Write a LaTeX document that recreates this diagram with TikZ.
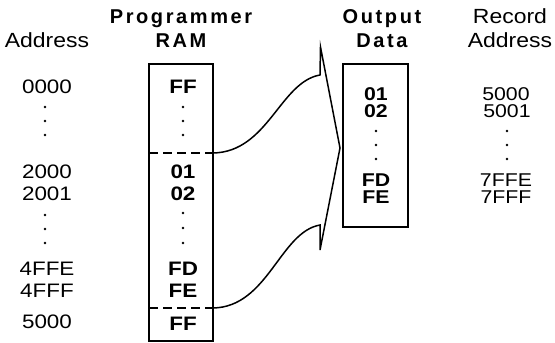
\documentclass[tikz,border=0pt]{standalone}
\usepackage{fontspec}
\newfontfamily\hdreg[FakeStretch=1.12]{Liberation Sans}
\newfontfamily\hdbold[LetterSpace=13]{Liberation Sans Bold}
\newfontfamily\valreg[FakeStretch=1.15]{Liberation Sans}
\newfontfamily\valbold[FakeStretch=1.15]{Liberation Sans Bold}
\tikzset{
  hreg/.style={font=\hdreg\fontsize{20.5}{22}\selectfont, anchor=base, inner sep=0pt, text height=14.5pt, text depth=0pt},
  hbold/.style={font=\hdbold\fontsize{20}{22}\selectfont, anchor=base, inner sep=0pt, text height=14.5pt, text depth=0pt},
  vreg/.style={font=\valreg\fontsize{19.5}{20}\selectfont, anchor=base, inner sep=0pt, text height=13.5pt, text depth=0pt},
  vbold/.style={font=\valbold\fontsize{19.5}{20}\selectfont, anchor=base, inner sep=0pt, text height=13.5pt, text depth=0pt},
  tight/.style={font=\valbold\fontsize{18.5}{20}\selectfont, text height=13pt},
  tightreg/.style={font=\valreg\fontsize{18.5}{20}\selectfont, text height=13pt},
  membox/.style={draw, line width=1.8pt, inner sep=0pt},
  cutline/.style={line width=1.5pt, dash pattern=on 9pt off 5pt},
  funnel/.style={line width=1.5pt, line join=miter},
  dotmark/.style={fill=black}
}
\begin{document}
\begin{tikzpicture}[x=1pt,y=-1pt]
\useasboundingbox (0,0) rectangle (555,343);
% headers
\node[hreg] (hAddr) at (47,47) {Address};
\node[hbold] (hProg) at (181,23) {Programmer};
\node[hbold] (hRam) at (181,47) {RAM};
\node[hbold] (hOut) at (382,23) {Output};
\node[hbold] (hData) at (382,47) {Data};
\node[hreg] (hRec) at (510,23) {Record};
\node[hreg] (hRecAddr) at (510,47) {Address};
% boxes
\node[membox, minimum width=64pt, minimum height=277pt] (ram) at (181,202.5) {};
\node[membox, minimum width=65pt, minimum height=163pt] (out) at (375.5,145.5) {};
% cut lines in RAM
\coordinate (cut1L) at (149,153);
\coordinate (cut1R) at (213,153);
\coordinate (cut2L) at (149,308);
\coordinate (cut2R) at (213,308);
\draw[cutline] (cut1L) -- (cut1R);
\draw[cutline] (cut2L) -- (cut2R);
% funnel
\coordinate (fup) at (320,75);
\coordinate (ftop) at (320.5,47);
\coordinate (fvert) at (340,148);
\coordinate (fbot) at (320,250);
\coordinate (flow) at (320,225);
\draw[funnel] (cut1R) .. controls (268,152) and (280,82) .. (fup) -- (ftop) -- (fvert) -- (fbot) -- (flow) .. controls (280,232) and (268,307) .. (cut2R);
% left address column
\node[vreg] (a0000) at (47,93) {0000};
\node[vreg] (a2000) at (47,178) {2000};
\node[vreg] (a2001) at (47,200) {2001};
\node[vreg] (a4FFE) at (47,275) {4FFE};
\node[vreg] (a4FFF) at (47,297) {4FFF};
\node[vreg] (a5000) at (47,328) {5000};
\foreach \yy in {107,121,135,215,229,243} \fill[dotmark] (45,\yy) circle (1.3pt);
% RAM contents
\node[vbold] (rFF) at (183,93) {FF};
\node[vbold] (r01) at (183,178) {01};
\node[vbold] (r02) at (183,200) {02};
\node[vbold] (rFD) at (183,275) {FD};
\node[vbold] (rFE) at (183,297) {FE};
\node[vbold] (rFF2) at (183,330) {FF};
\foreach \yy in {107,121,135,213,228,243} \fill[dotmark] (183,\yy) circle (1.3pt);
% output data
\node[vbold, tight] (o01) at (376,100) {01};
\node[vbold, tight] (o02) at (376,117) {02};
\node[vbold, tight] (oFD) at (376,186) {FD};
\node[vbold, tight] (oFE) at (376,203) {FE};
\foreach \yy in {131,145,159} \fill[dotmark] (376,\yy) circle (1.3pt);
% record address
\node[vreg, tightreg] (c5000) at (506,100) {5000};
\node[vreg, tightreg] (c5001) at (507,117) {5001};
\node[vreg, tightreg] (c7FFE) at (506,186) {7FFE};
\node[vreg, tightreg] (c7FFF) at (506,203) {7FFF};
\foreach \yy in {131,145,159} \fill[dotmark] (507,\yy) circle (1.3pt);
\end{tikzpicture}
\end{document}
